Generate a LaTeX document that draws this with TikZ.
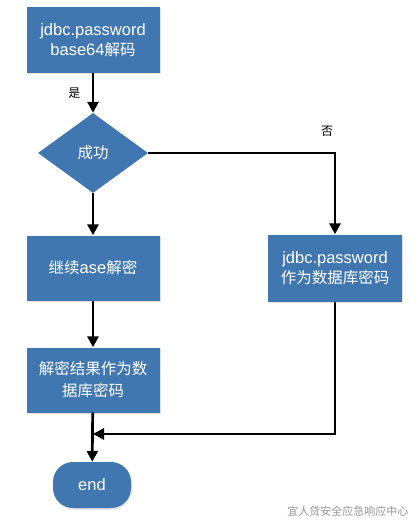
\documentclass[tikz,border=0pt]{standalone}
\usepackage{fontspec}
\setmainfont{Liberation Sans}
\newfontfamily\cjk{Noto Sans CJK SC}
\usetikzlibrary{arrows.meta, positioning, shapes.geometric, shadows}
\definecolor{flowblue}{RGB}{64, 119, 176}
\definecolor{markgray}{RGB}{150, 150, 150}

\begin{document}
\begin{tikzpicture}[x=1pt, y=-1pt,
  stepbox/.style={draw=none, fill=flowblue, text=white, font=\fontsize{16.5}{20}\selectfont, align=center, inner sep=0pt, minimum width=133pt, minimum height=65pt, drop shadow={opacity=0.25, shadow xshift=1pt, shadow yshift=-1.5pt}},
  choice/.style={diamond, fill=flowblue, text=white, font=\cjk\fontsize{15.5}{19}\selectfont, inner sep=0pt, minimum width=110pt, minimum height=80pt},
  endbox/.style={stepbox, minimum width=78pt, minimum height=46pt, rounded corners=20pt},
  flow/.style={line width=2.7pt, -{Triangle[length=11pt, width=11pt]}},
  tag/.style={font=\cjk\fontsize{12}{14}\selectfont}]
\useasboundingbox (0,0) rectangle (418,527);
\node[stepbox] (pwd) at (93,40) {jdbc.password\\base64{\cjk\fontsize{15.5}{20}\selectfont 解码}};
\node[choice] (ok) at (93,153) {成功};
\node[stepbox] (aes) at (93,268) {{\cjk\fontsize{15.5}{20}\selectfont 继续}ase{\cjk\fontsize{15.5}{20}\selectfont 解密}};
\node[stepbox, minimum width=134pt, minimum height=67pt] (raw) at (335,268) {jdbc.password\\{\cjk\fontsize{15.5}{20}\selectfont 作为数据库密码}};
\node[stepbox, font=\cjk\fontsize{15.5}{22}\selectfont] (res) at (93,380) {解密结果作为数\\据库密码};
\node[endbox] (fin) at (92,485) {end};
\coordinate (merge) at (93,434);
% connectors
\draw[flow] (pwd) -- (ok) node[tag, midway, left=8pt] {是};
\draw[flow] (ok.east) -| (raw) node[tag, pos=0.5, anchor=south, xshift=-8pt, yshift=12pt] {否};
\draw[flow] (ok) -- (aes);
\draw[flow] (aes) -- (res);
\draw[flow] (res) -- (fin);
\draw[flow] (raw) |- (merge);
\node[font=\cjk\fontsize{11}{13}\selectfont, text=markgray, anchor=east] (mark) at (412,511) {宜人贷安全应急响应中心};
\end{tikzpicture}
\end{document}
